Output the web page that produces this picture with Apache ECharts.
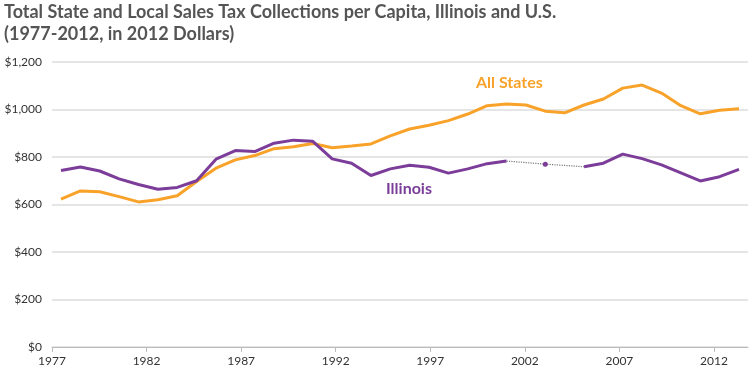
<!DOCTYPE html>
<html>
<head>
<meta charset="utf-8">
<script src="https://cdn.jsdelivr.net/npm/echarts@6/dist/echarts.min.js"></script>
<style>
html,body{margin:0;padding:0;background:#fff;}
#chart{width:755px;height:381px;}
</style>
</head>
<body>
<div id="chart"></div>
<script>
var years = [1977,1978,1979,1980,1981,1982,1983,1984,1985,1986,1987,1988,1989,1990,1991,1992,1993,1994,1995,1996,1997,1998,1999,2000,2001,2002,2003,2004,2005,2006,2007,2008,2009,2010,2011,2012];
var allStates = [623,657,654,633,611,620,637,697,753,788,806,835,843,857,839,846,855,889,918,934,953,981,1016,1023,1019,993,986,1019,1044,1090,1103,1069,1016,982,997,1003];
var illinois = [743,758,741,708,684,664,672,700,791,827,823,858,871,866,792,774,722,750,765,757,732,750,772,783,null,770,null,759,774,812,793,767,733,699,717,748];
var gapYears = [2000,2002,2004];
var yTicks = [0,200,400,600,800,1000,1200];
var xTickStart = 1977, xTickStep = 5;

var FONT = 'Lato, "Open Sans", sans-serif';
var ORANGE = '#f8a22a';
var PURPLE = '#7b3d99';

var illinoisData = illinois.map(function(v, i){
  if (years[i] === 2002) return {value: v, symbol: 'circle', symbolSize: 5};
  return v;
});
var gapData = years.map(function(y, i){
  return gapYears.indexOf(y) >= 0 ? illinois[i] : null;
});

var chart = echarts.init(document.getElementById('chart'), null, {renderer:'canvas'});
var option = {
  animation: false,
  title: {
    text: 'Total State and Local Sales Tax Collections per Capita, Illinois and U.S.\n(1977-2012, in 2012 Dollars)',
    left: 4, top: 1, padding: 0,
    textStyle: {fontFamily: FONT, fontSize: 18, fontWeight: 'bold', color: '#555555', lineHeight: 22}
  },
  grid: [
    {left: 52, right: 7, top: 62, bottom: 34},
    {left: 61, right: 16, top: 62, bottom: 34}
  ],
  xAxis: [
    {
      type: 'value', gridIndex: 0, min: xTickStart, max: 2013.8, interval: xTickStep,
      axisLine: {show: true, lineStyle: {color: '#bbbbbb', width: 1}},
      axisTick: {show: true, length: 5, lineStyle: {color: '#bbbbbb'}},
      splitLine: {show: false},
      axisLabel: {
        fontFamily: FONT, fontSize: 12, color: '#333333', margin: 8,
        showMaxLabel: false,
        formatter: function(v){ return String(Math.round(v)); }
      }
    },
    {
      type: 'category', gridIndex: 1, data: years, boundaryGap: false, show: false
    }
  ],
  yAxis: [
    {
      type: 'value', gridIndex: 0, min: yTicks[0], max: yTicks[yTicks.length-1], interval: 200,
      axisLine: {show: false}, axisTick: {show: false},
      splitLine: {show: true, lineStyle: {color: '#dddddd', width: 1.5}},
      axisLabel: {
        fontFamily: FONT, fontSize: 12, color: '#333333', margin: 10,
        formatter: function(v){ return '$' + v.toLocaleString('en-US'); }
      }
    },
    {
      type: 'value', gridIndex: 1, min: yTicks[0], max: yTicks[yTicks.length-1], show: false
    }
  ],
  series: [
    {
      name: 'All States', type: 'line', xAxisIndex: 1, yAxisIndex: 1,
      data: allStates, symbol: 'none', smooth: false,
      lineStyle: {color: ORANGE, width: 3}, z: 3
    },
    {
      name: 'gap', type: 'line', xAxisIndex: 1, yAxisIndex: 1,
      data: gapData, connectNulls: true, symbol: 'none',
      lineStyle: {color: '#777777', width: 1.2, type: 'dotted'}, z: 2
    },
    {
      name: 'Illinois', type: 'line', xAxisIndex: 1, yAxisIndex: 1,
      data: illinoisData, connectNulls: false, symbol: 'none', showAllSymbol: true,
      itemStyle: {color: PURPLE},
      lineStyle: {color: PURPLE, width: 3}, z: 4
    }
  ],
  graphic: [
    {type: 'text', left: 476, top: 75, style: {text: 'All States', fill: ORANGE, font: 'bold 16px ' + FONT}},
    {type: 'text', left: 386, top: 181, style: {text: 'Illinois', fill: PURPLE, font: 'bold 16px ' + FONT}}
  ]
};
chart.setOption(option);
</script>
</body>
</html>
